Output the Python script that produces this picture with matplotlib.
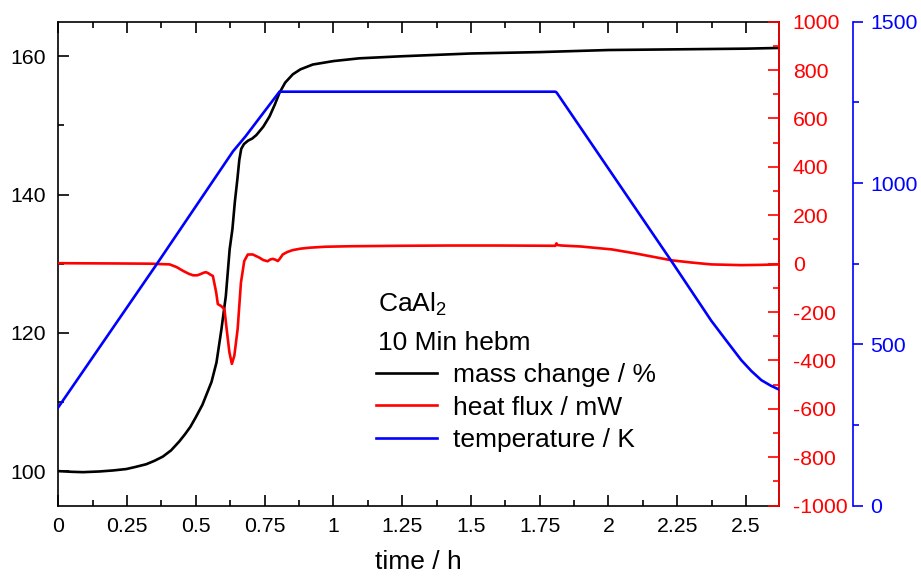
import matplotlib
matplotlib.use("Agg")
import matplotlib.pyplot as plt
from matplotlib.ticker import MultipleLocator, FuncFormatter
from matplotlib.lines import Line2D

plt.rcParams['font.family'] = ['Liberation Sans', 'DejaVu Sans']
plt.rcParams['mathtext.fontset'] = 'custom'
plt.rcParams['mathtext.rm'] = 'Liberation Sans'
plt.rcParams['axes.unicode_minus'] = False

# ---- data ----
mass_t = [0, 0.05, 0.09, 0.15, 0.2, 0.247, 0.28, 0.32, 0.35, 0.38, 0.41, 0.44, 0.46,
          0.48, 0.50, 0.524, 0.54, 0.557, 0.575, 0.593, 0.609, 0.623, 0.633, 0.642,
          0.651, 0.658, 0.665, 0.675, 0.69, 0.705, 0.72, 0.745, 0.768, 0.787, 0.804,
          0.825, 0.853, 0.88, 0.925, 1.0, 1.094, 1.25, 1.5, 1.75, 2.0, 2.25, 2.5, 2.62]
mass_v = [100.0, 99.9, 99.85, 99.95, 100.1, 100.3, 100.6, 101.0, 101.5, 102.1, 103.0,
          104.3, 105.3, 106.4, 107.8, 109.6, 111.2, 112.9, 115.7, 120.5, 125.3, 132.1,
          135.0, 139.0, 142.2, 145.0, 146.6, 147.3, 147.8, 148.1, 148.6, 149.8, 151.3,
          153.0, 154.7, 156.2, 157.4, 158.1, 158.8, 159.3, 159.7, 160.0, 160.4, 160.6,
          160.9, 161.0, 161.1, 161.2]

heat_t = [0, 0.2, 0.333, 0.405, 0.43, 0.454, 0.475, 0.49, 0.505, 0.515, 0.527, 0.536,
          0.545, 0.551, 0.562, 0.574, 0.58, 0.592, 0.604, 0.612, 0.622, 0.631, 0.640,
          0.652, 0.664, 0.676, 0.689, 0.707, 0.731, 0.745, 0.761, 0.770, 0.780, 0.790,
          0.798, 0.805, 0.816, 0.832, 0.852, 0.88, 0.913, 0.97, 1.058, 1.25, 1.42, 1.6,
          1.807, 1.811, 1.814, 1.83, 1.9, 2.012, 2.1, 2.229, 2.3, 2.374, 2.483, 2.55,
          2.62]
heat_v = [2, 1, 0, -3, -14, -30, -42, -48, -48, -44, -38, -35, -39, -44, -51, -119,
          -167, -175, -188, -270, -366, -414, -380, -270, -78, 11, 38, 38, 25, 15, 10,
          17, 20, 16, 11, 20, 38, 48, 56, 62, 66, 70, 72, 74, 75, 75, 74, 84, 77, 75,
          71, 59, 42, 14, 5, -3, -6, -5, -3]

temp_t = [0, 0.355, 0.635, 0.681, 0.804, 1.807, 1.812, 2.229, 2.374, 2.43, 2.483,
          2.52, 2.556, 2.59, 2.62]
temp_v = [305, 745, 1098, 1145, 1283, 1283, 1280, 758, 573, 510, 451, 417, 389,
          372, 360]

x_major = 0.25
title_lines = ["CaAl$_2$", "10 Min hebm"]
labels = ["mass change / %", "heat flux / mW", "temperature / K"]

# ---- figure ----
fig = plt.figure(figsize=(9.21, 5.78), dpi=100)
ax = fig.add_axes([0.0633, 0.1251, 0.7825, 0.8374])
ax2 = ax.twinx()
ax3 = ax.twinx()

lw = 1.9
ax.plot(mass_t, mass_v, color='black', lw=lw)
ax2.plot(heat_t, heat_v, color='red', lw=lw)
ax3.plot(temp_t, temp_v, color='blue', lw=lw)

ax.set_xlim(0, 2.62)
ax.set_ylim(95, 165)
ax2.set_ylim(-1000, 1000)
ax3.set_ylim(0, 1500)

ax.xaxis.set_major_locator(MultipleLocator(x_major))
ax.xaxis.set_minor_locator(MultipleLocator(x_major / 2))
ax.xaxis.set_major_formatter(FuncFormatter(lambda v, p: f"{v:g}"))
ax.yaxis.set_major_locator(MultipleLocator(20))
ax.yaxis.set_minor_locator(MultipleLocator(10))
ax2.yaxis.set_major_locator(MultipleLocator(200))
ax2.yaxis.set_minor_locator(MultipleLocator(100))
ax3.yaxis.set_major_locator(MultipleLocator(500))
ax3.yaxis.set_minor_locator(MultipleLocator(250))

fs = 15.3
ax.tick_params(axis='both', which='both', direction='in', top=True, right=False,
               labelsize=fs, width=1.2)
ax.tick_params(axis='both', which='major', length=8)
ax.tick_params(axis='both', which='minor', length=4)
ax.tick_params(axis='y', pad=9)
ax.tick_params(axis='x', pad=8)

ax2.tick_params(axis='y', which='both', direction='in', colors='red', labelsize=fs,
                width=1.2, pad=10)
ax2.tick_params(axis='y', which='major', length=8)
ax2.tick_params(axis='y', which='minor', length=4)

ax3.spines['right'].set_position(('outward', 53.5))
ax3.tick_params(axis='y', which='both', direction='out', colors='blue', labelsize=fs,
                width=1.2, pad=5)
ax3.tick_params(axis='y', which='major', length=7)
ax3.tick_params(axis='y', which='minor', length=4)

for a in (ax, ax2, ax3):
    for s in a.spines.values():
        s.set_linewidth(1.2)
ax2.spines['right'].set_color('red')
ax3.spines['right'].set_color('blue')
for a in (ax2, ax3):
    a.spines['left'].set_visible(False)
    a.spines['top'].set_visible(False)
    a.spines['bottom'].set_visible(False)
ax3.spines['right'].set_visible(True)

ax.set_xlabel("time / h", fontsize=19, labelpad=10)

ax3.text(0.4436, 0.4008, title_lines[0], transform=ax3.transAxes, fontsize=19,
         ha='left', va='baseline')
ax3.text(0.4436, 0.3217, title_lines[1], transform=ax3.transAxes, fontsize=19,
         ha='left', va='baseline')

handles = [Line2D([], [], color=c, lw=lw) for c in ('black', 'red', 'blue')]
leg = ax3.legend(handles, labels, loc='upper left',
                 bbox_to_anchor=(0.441, 0.295), frameon=False, fontsize=19,
                 handlelength=2.3, handletextpad=0.6, labelspacing=0.333,
                 borderpad=0, borderaxespad=0)

fig.savefig("out.png", dpi=100)
